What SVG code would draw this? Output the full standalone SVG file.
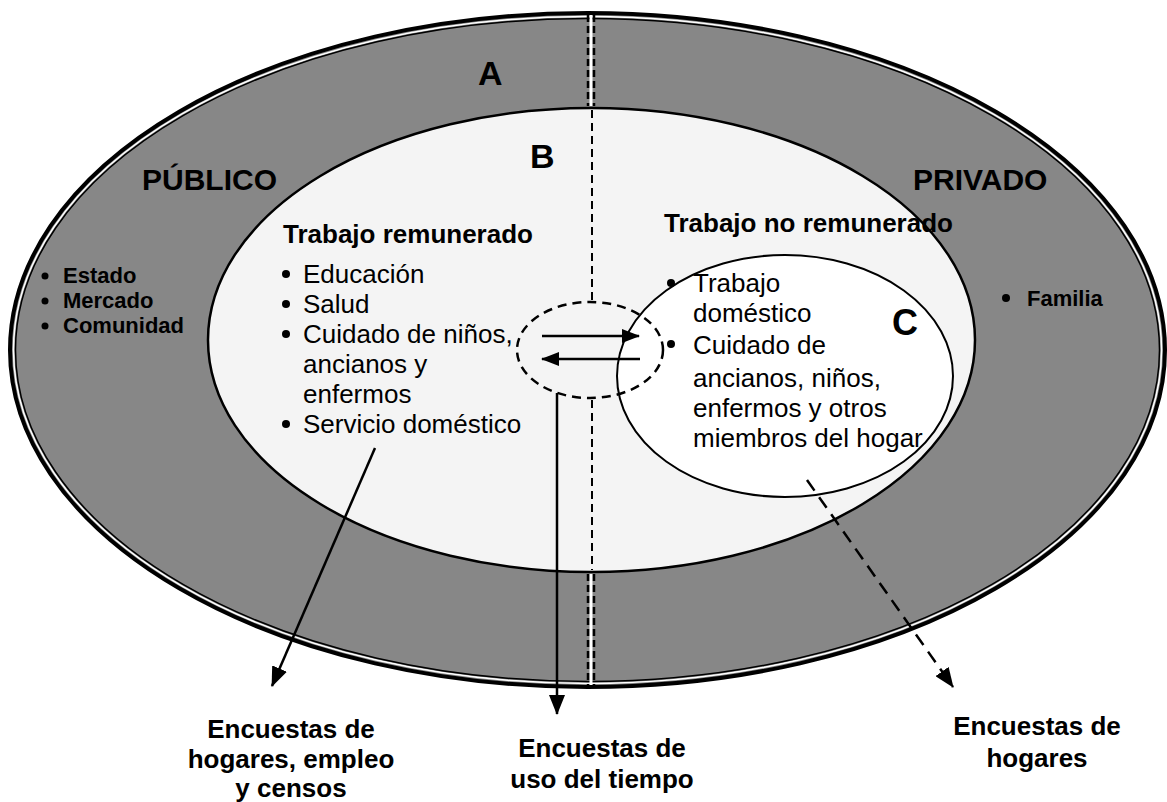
<svg xmlns="http://www.w3.org/2000/svg" width="1167" height="802" viewBox="0 0 1167 802">
<style>
text{font-family:"Liberation Sans",Arial,sans-serif;fill:#000}
.b{font-weight:bold}
.big{font-weight:bold;font-size:34px}
.zone{font-weight:bold;font-size:30px}
.lst{font-weight:bold;font-size:22px}
.hd{font-weight:bold;font-size:26px}
.it{font-size:26px}
.lbl{font-weight:bold;font-size:26px;text-anchor:middle}
.ln{stroke:#000;stroke-width:2.5;fill:none}
</style>
<defs>
<marker id="ah" markerUnits="userSpaceOnUse" markerWidth="20" markerHeight="16" refX="19" refY="8" orient="auto">
<path d="M0,0 L20,8 L0,16 Z" fill="#000"/>
</marker>
<marker id="ahs" markerUnits="userSpaceOnUse" markerWidth="18" markerHeight="14" refX="17" refY="7" orient="auto">
<path d="M0,0 L18,7 L0,14 Z" fill="#000"/>
</marker>
</defs>
<rect width="1167" height="802" fill="#fff"/>
<g id="A">
<ellipse cx="587.5" cy="350" rx="577.5" ry="337" fill="#878787" stroke="#000" stroke-width="4"/>
<ellipse cx="587.5" cy="350" rx="574" ry="333.5" fill="none" stroke="#fff" stroke-width="1.5"/>
<ellipse cx="587.5" cy="350" rx="572" ry="331.5" fill="none" stroke="#000" stroke-width="1.5"/>
<text class="big" x="478" y="85">A</text>
<text class="zone" x="142" y="190">PÚBLICO</text>
<text class="zone" x="913" y="190">PRIVADO</text>
<circle cx="45" cy="276" r="3.5"/>
<circle cx="45" cy="301" r="3.5"/>
<circle cx="45" cy="326" r="3.5"/>
<text class="lst" x="63" y="283">Estado</text>
<text class="lst" x="63" y="308">Mercado</text>
<text class="lst" x="63" y="333">Comunidad</text>
<circle cx="1006" cy="298" r="4"/>
<text class="lst" x="1027" y="306">Familia</text>
</g>
<g id="B">
<ellipse cx="591.5" cy="340" rx="383.5" ry="232" fill="#f4f4f4" stroke="#000" stroke-width="2.5"/>
<text class="big" x="530" y="168">B</text>
<text class="hd" x="283" y="243">Trabajo remunerado</text>
<circle cx="286" cy="274" r="4"/>
<circle cx="286" cy="304" r="4"/>
<circle cx="286" cy="334" r="4"/>
<circle cx="286" cy="424" r="4"/>
<text class="it" x="303" y="283">Educación</text>
<text class="it" x="303" y="313">Salud</text>
<text class="it" x="303" y="343">Cuidado de niños,</text>
<text class="it" x="303" y="373">ancianos y</text>
<text class="it" x="303" y="403">enfermos</text>
<text class="it" x="303" y="433">Servicio doméstico</text>
</g>
<g id="C">
<ellipse cx="785" cy="376" rx="168" ry="121" fill="#fff" stroke="#000" stroke-width="2"/>
<text class="big" x="892" y="335" style="font-size:36px">C</text>
</g>
<g id="connectors">
<line x1="591" y1="15" x2="591" y2="106" stroke="#fff" stroke-width="3"/>
<line x1="588" y1="15" x2="588" y2="106" stroke="#000" stroke-width="2.5" stroke-dasharray="7 4"/>
<line x1="594" y1="15" x2="594" y2="106" stroke="#000" stroke-width="2.5" stroke-dasharray="7 4"/>
<line x1="591" y1="574" x2="591" y2="685" stroke="#fff" stroke-width="3"/>
<line x1="588" y1="574" x2="588" y2="685" stroke="#000" stroke-width="2.5" stroke-dasharray="7 4"/>
<line x1="594" y1="574" x2="594" y2="685" stroke="#000" stroke-width="2.5" stroke-dasharray="7 4"/>
<line x1="592" y1="110" x2="592" y2="302" stroke="#000" stroke-width="2" stroke-dasharray="8 5"/>
<line x1="592" y1="400" x2="592" y2="570" stroke="#000" stroke-width="2" stroke-dasharray="8 5"/>
<ellipse id="T" cx="590" cy="350" rx="73" ry="48" fill="none" stroke="#000" stroke-width="2.5" stroke-dasharray="9 6"/>
<line class="ln" x1="542" y1="336" x2="639" y2="336" marker-end="url(#ahs)"/>
<line class="ln" x1="640" y1="359" x2="542" y2="359" marker-end="url(#ahs)"/>
<line class="ln" x1="557" y1="393" x2="557" y2="714" marker-end="url(#ah)"/>
<line class="ln" x1="375" y1="448" x2="272" y2="686" marker-end="url(#ah)"/>
<line class="ln" x1="807" y1="480" x2="953" y2="687" stroke-width="3" stroke-dasharray="13 8" marker-end="url(#ah)"/>
</g>
<g id="C-text">
<text class="hd" x="664" y="232">Trabajo no remunerado</text>
<circle cx="671" cy="283" r="4"/>
<circle cx="671" cy="344" r="4"/>
<text class="it" x="693" y="292">Trabajo</text>
<text class="it" x="693" y="322">doméstico</text>
<text class="it" x="693" y="354">Cuidado de</text>
<text class="it" x="693" y="387"> ancianos, niños,</text>
<text class="it" x="693" y="417">enfermos y otros</text>
<text class="it" x="693" y="447">miembros del hogar</text>
</g>
<g id="labels">
<text class="lbl" x="291" y="738">Encuestas de</text>
<text class="lbl" x="291" y="768">hogares, empleo</text>
<text class="lbl" x="291" y="797">y censos</text>
<text class="lbl" x="602" y="757">Encuestas de</text>
<text class="lbl" x="602" y="788">uso del tiempo</text>
<text class="lbl" x="1037" y="735">Encuestas de</text>
<text class="lbl" x="1037" y="767">hogares</text>
</g>
</svg>
